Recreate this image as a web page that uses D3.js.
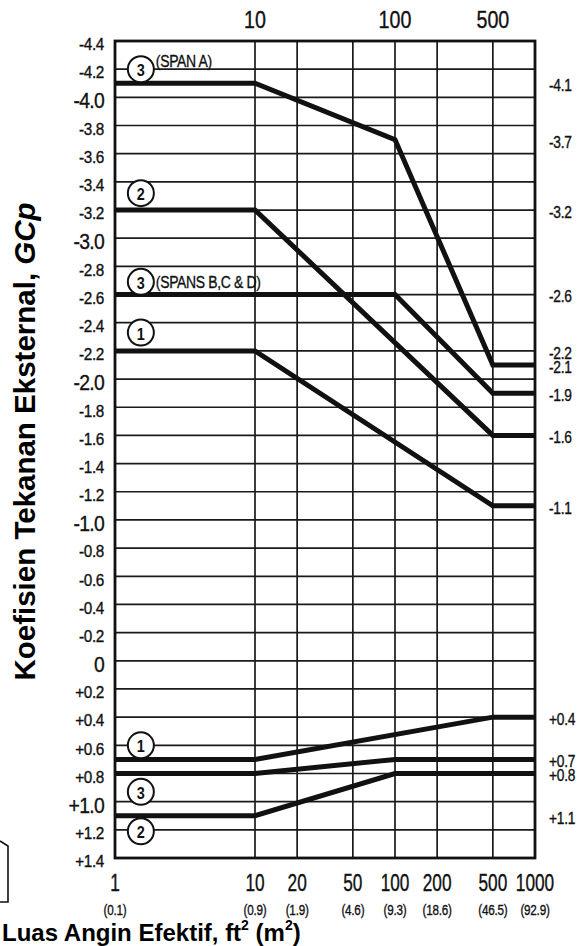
<!DOCTYPE html>
<html><head><meta charset="utf-8">
<script src="https://cdn.jsdelivr.net/npm/d3@7"></script>
<style>
html,body{margin:0;padding:0;background:#fff;}
svg{display:block;}
text{font-family:"Liberation Sans",Arial,Helvetica,sans-serif;}
.bold{font-weight:bold;}
.lbl{stroke:#111;stroke-width:0.35px;}
</style></head>
<body>
<script>
// ---- data ----
const xTicks = [1, 10, 20, 50, 100, 200, 500, 1000];
const xTickLabels = ["1", "10", "20", "50", "100", "200", "500", "1000"];
const metricLabels = ["(0.1)", "(0.9)", "(1.9)", "(4.6)", "(9.3)", "(18.6)", "(46.5)", "(92.9)"];
const topTicks = [10, 100, 500];
const gridX = [10, 20, 50, 100, 200, 500];
const yTickLabels = ["-4.4","-4.2","-4.0","-3.8","-3.6","-3.4","-3.2","-3.0","-2.8","-2.6","-2.4","-2.2","-2.0","-1.8","-1.6","-1.4","-1.2","-1.0","-0.8","-0.6","-0.4","-0.2","0","+0.2","+0.4","+0.6","+0.8","+1.0","+1.2","+1.4"];
const bigYLabels = ["-4.0","-3.0","-2.0","-1.0","0","+1.0"];
const rightLabels = ["-4.1","-3.7","-3.2","-2.6","-2.2","-2.1","-1.9","-1.6","-1.1","+0.4","+0.7","+0.8","+1.1"];

// series: effective wind area (ft2) and GCp
const zone3A_area = [1, 10, 100, 500, 1000];
const zone3A_gcp  = [-4.1, -4.1, -3.7, -2.1, -2.1];
const zone2N_area = [1, 10, 500, 1000];
const zone2N_gcp  = [-3.2, -3.2, -1.6, -1.6];
const zone3B_area = [1, 100, 500, 1000];
const zone3B_gcp  = [-2.6, -2.6, -1.9, -1.9];
const zone1N_area = [1, 10, 500, 1000];
const zone1N_gcp  = [-2.2, -2.2, -1.1, -1.1];
const zone1P_area = [1, 10, 500, 1000];
const zone1P_gcp  = [0.7, 0.7, 0.4, 0.4];
const zone3P_area = [1, 10, 100, 1000];
const zone3P_gcp  = [0.8, 0.8, 0.7, 0.7];
const zone2P_area = [1, 10, 100, 1000];
const zone2P_gcp  = [1.1, 1.1, 0.8, 0.8];

// zone markers
const markerNums = ["3", "2", "3", "1", "1", "3", "2"];
const markerArea = [1.53, 1.53, 1.53, 1.53, 1.53, 1.53, 1.53];
const markerGcp  = [-4.2, -3.32, -2.69, -2.33, 0.6, 0.93, 1.21];
const markerNote = ["(SPAN A)", "", "(SPANS B,C & D)", "", "", "", ""];

// ---- drawing ----
const W = 580, H = 946;
const svg = d3.select("body").append("svg").attr("width", W).attr("height", H);
const x = d3.scaleLog().domain([1, 1000]).range([115, 535]);
const y = d3.scaleLinear().domain([-4.4, 1.4]).range([41, 858]);
const ink = "#111";
const place = (px, py, sx) => `translate(${px},${py}) scale(${sx},1)`;

// horizontal grid
const yVals = yTickLabels.map(s => +s);
svg.append("g").selectAll("line").data(yVals).join("line")
  .attr("x1", x(1)).attr("x2", x(1000))
  .attr("y1", d => y(d)).attr("y2", d => y(d))
  .attr("stroke", "#1a1a1a").attr("stroke-width", 1.7);
// vertical grid
svg.append("g").selectAll("line").data(gridX).join("line")
  .attr("x1", d => x(d)).attr("x2", d => x(d))
  .attr("y1", y(-4.4)).attr("y2", y(1.4))
  .attr("stroke", "#1a1a1a").attr("stroke-width", 1.7);
// frame
svg.append("rect").attr("x", x(1)).attr("y", y(-4.4))
  .attr("width", x(1000) - x(1)).attr("height", y(1.4) - y(-4.4))
  .attr("fill", "none").attr("stroke", ink).attr("stroke-width", 2.8);

// left tick labels
svg.append("g").selectAll("text").data(yTickLabels).join("text")
  .attr("class", "lbl")
  .attr("transform", d => place(104, y(+d) + 3, bigYLabels.includes(d) ? 0.88 : 0.9))
  .attr("text-anchor", "end").attr("dominant-baseline", "central")
  .attr("font-size", d => bigYLabels.includes(d) ? 22 : 17)
  .attr("fill", ink)
  .attr("letter-spacing", d => bigYLabels.includes(d) ? -0.8 : -0.4)
  .text(d => d);

// right labels
svg.append("g").selectAll("text").data(rightLabels).join("text")
  .attr("class", "lbl")
  .attr("transform", d => place(549, y(+d) + 2, 0.86))
  .attr("dominant-baseline", "central")
  .attr("font-size", 16).attr("fill", ink).attr("letter-spacing", -0.3)
  .text(d => d);

// top labels
svg.append("g").selectAll("text").data(topTicks).join("text")
  .attr("class", "lbl")
  .attr("transform", d => place(x(d), 28, 0.82))
  .attr("text-anchor", "middle").attr("font-size", 24).attr("fill", ink)
  .text(d => d);

// bottom labels
svg.append("g").selectAll("text").data(xTicks).join("text")
  .attr("class", "lbl")
  .attr("transform", d => place(x(d), 891, 0.75))
  .attr("text-anchor", "middle").attr("font-size", 23).attr("fill", ink)
  .text((d, i) => xTickLabels[i]);
svg.append("g").selectAll("text").data(xTicks).join("text")
  .attr("class", "lbl")
  .attr("transform", d => place(x(d), 915, 0.78))
  .attr("text-anchor", "middle").attr("font-size", 15).attr("fill", ink)
  .attr("letter-spacing", -0.3)
  .text((d, i) => metricLabels[i]);

// data lines
const series = [
  [zone3A_area, zone3A_gcp], [zone2N_area, zone2N_gcp], [zone3B_area, zone3B_gcp],
  [zone1N_area, zone1N_gcp], [zone1P_area, zone1P_gcp], [zone3P_area, zone3P_gcp],
  [zone2P_area, zone2P_gcp]
];
const line = d3.line().x(d => x(d[0])).y(d => y(d[1]));
svg.append("g").selectAll("path").data(series).join("path")
  .attr("d", s => line(d3.zip(s[0], s[1])))
  .attr("fill", "none").attr("stroke", ink).attr("stroke-width", 5)
  .attr("stroke-linejoin", "miter");

// zone markers
const mk = svg.append("g").selectAll("g").data(markerNums).join("g")
  .attr("transform", (d, i) => `translate(${x(markerArea[i])},${y(markerGcp[i])})`);
mk.append("circle").attr("r", 13).attr("fill", "#fff").attr("stroke", ink).attr("stroke-width", 2);
mk.append("text").attr("transform", "translate(0,1) scale(0.85,1)").attr("text-anchor", "middle")
  .attr("dominant-baseline", "central").attr("font-size", 17).attr("font-weight", "bold")
  .attr("fill", ink).text(d => d);
mk.append("text").attr("class", "lbl")
  .attr("transform", (d, i) => place(15, i === 0 ? -8 : 0, 0.82))
  .attr("dominant-baseline", "central").attr("font-size", 17).attr("fill", ink)
  .attr("letter-spacing", -0.4)
  .text((d, i) => markerNote[i]);

// y-axis title
const yt = svg.append("text").attr("class", "bold")
  .attr("transform", `translate(35,${(203 + 680) / 2}) rotate(-90)`)
  .attr("text-anchor", "middle").attr("font-size", 29.5).attr("fill", "#000");
yt.append("tspan").text("Koefisien Tekanan Eksternal, ");
yt.append("tspan").attr("font-style", "italic").text("GCp");

// x-axis title
const xt = svg.append("text").attr("class", "bold")
  .attr("x", 2).attr("y", 941).attr("font-size", 24).attr("fill", "#000");
xt.append("tspan").text("Luas Angin Efektif, ft");
xt.append("tspan").attr("font-size", 14).attr("dy", -11).text("2");
xt.append("tspan").attr("dy", 11).text(" (m");
xt.append("tspan").attr("font-size", 14).attr("dy", -11).text("2");
xt.append("tspan").attr("dy", 11).text(")");

// cropped building sketch fragment at left edge
svg.append("path").attr("d", "M0,841 L8,846 L8,902 L0,902")
  .attr("fill", "none").attr("stroke", ink).attr("stroke-width", 1.6);
</script>
</body></html>
